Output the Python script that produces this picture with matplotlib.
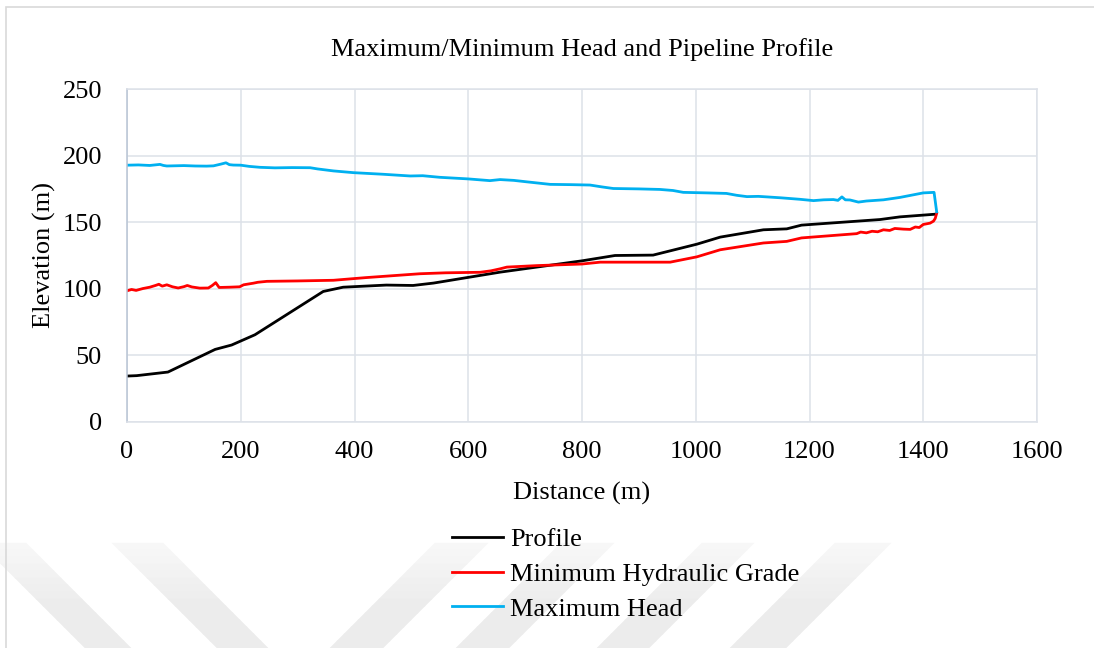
import matplotlib
matplotlib.use("Agg")
import matplotlib.pyplot as plt
from matplotlib.patches import Polygon, Rectangle

plt.rcParams['font.family'] = ['Liberation Serif', 'DejaVu Serif']

# Profile (ground elevation)
profile_x = [0, 17, 72, 155, 184, 225, 345, 380, 456, 503, 539, 656, 800, 858,
             925, 1002, 1043, 1119, 1160, 1186, 1324, 1359, 1421]
profile_y = [34.5, 34.8, 37.5, 54.5, 57.8, 65.5, 98.0, 101.2, 102.8, 102.5, 104.3,
             112.5, 121.0, 125.0, 125.3, 133.5, 138.8, 144.3, 145.0, 147.8, 152.0,
             154.0, 156.0]

# Minimum hydraulic grade
min_x = [0, 8, 16, 28, 40, 50, 56, 62, 70, 80, 90, 100, 106, 114, 128, 143, 150,
         156, 162, 180, 198, 205, 212, 222, 230, 246, 300, 363, 420, 515, 560, 621,
         640, 656, 668, 720, 800, 832, 955, 1002, 1043, 1119, 1160, 1186, 1283,
         1290, 1300, 1310, 1320, 1330, 1341, 1350, 1365, 1377, 1386, 1393, 1400,
         1412, 1418, 1421, 1423.5]
min_y = [98.5, 99.5, 98.8, 100.2, 101.2, 102.5, 103.4, 102.0, 103.0, 101.5, 100.6,
         101.6, 102.5, 101.4, 100.5, 100.6, 102.5, 104.6, 101.0, 101.2, 101.5, 103.0,
         103.5, 104.2, 104.9, 105.6, 105.9, 106.4, 108.4, 111.3, 112.0, 112.4, 113.5,
         115.0, 116.3, 117.4, 118.6, 120.0, 120.0, 124.0, 129.3, 134.4, 135.6, 138.2,
         141.4, 142.6, 142.0, 143.2, 142.8, 144.3, 143.8, 145.3, 144.8, 144.6, 146.4,
         146.0, 148.3, 149.3, 150.8, 152.8, 156.5]

# Maximum head
max_x = [0, 20, 40, 58, 64, 70, 100, 120, 140, 152, 165, 174, 180, 187, 200, 215,
         234, 260, 290, 322, 335, 363, 398, 450, 498, 520, 550, 600, 638, 656, 680,
         703, 744, 780, 814, 835, 855, 900, 937, 960, 978, 1020, 1054, 1072, 1090,
         1110, 1125, 1150, 1183, 1207, 1225, 1242, 1250, 1257, 1263, 1271, 1286,
         1300, 1330, 1359, 1400, 1419, 1423.6]
max_y = [192.8, 193.0, 192.6, 193.4, 192.6, 192.2, 192.5, 192.2, 192.1, 192.3,
         193.6, 194.6, 193.2, 192.9, 192.8, 191.9, 191.2, 190.8, 191.0, 190.9, 190.0,
         188.5, 187.2, 186.0, 184.7, 184.9, 183.7, 182.5, 181.2, 182.0, 181.4, 180.3,
         178.4, 178.2, 177.9, 176.5, 175.3, 175.0, 174.6, 173.8, 172.4, 172.0, 171.6,
         170.2, 169.2, 169.4, 169.0, 168.3, 167.2, 166.2, 166.8, 167.0, 166.4, 169.0,
         166.8, 166.7, 165.1, 165.9, 166.8, 168.6, 172.0, 172.4, 157.8]

W, H = 1094, 648
fig = plt.figure(figsize=(W / 100, H / 100), dpi=100)


def px(x, y):
    return (x / W, 1 - y / H)


# faint watermark stripes in the lower part of the page (fading upwards)
stripes = [(-20, 26, 105), (112, 163, 105), (435, 488, -105),
           (561, 614, -105), (702, 754, -105), (835, 891, -105)]
nband = 15
for x0, x1, dx in stripes:
    for i in range(nband):
        t0, t1 = i / nband, (i + 1) / nband
        y0, y1 = 543 + 105 * t0, 543 + 105 * t1
        g = 0.975 - 0.05 * min(1, t1 * 1.6)
        pts = [px(x0 + dx * t0, y0), px(x1 + dx * t0, y0),
               px(x1 + dx * t1, y1), px(x0 + dx * t1, y1)]
        fig.add_artist(Polygon(pts, closed=True, transform=fig.transFigure,
                               facecolor=(g, g, g), edgecolor=(g, g, g), lw=0.3,
                               zorder=0))

# chart area border
fig.add_artist(Rectangle(px(6, 660), 1200 / W, 653 / H, transform=fig.transFigure,
                         fill=False, edgecolor='#d9d9d9', lw=1.2, zorder=1))

ax = fig.add_axes([127 / W, 1 - 422 / H, 910 / W, 333 / H])
ax.patch.set_alpha(0)

grid_c = '#dde1e8'
ax.plot(profile_x, profile_y, color='black', lw=2.0, label='Profile')
ax.plot(min_x, min_y, color='#ff0000', lw=2.0, label='Minimum Hydraulic Grade')
ax.plot(max_x, max_y, color='#00b0f0', lw=2.0, label='Maximum Head')

ax.set_xlim(0, 1600)
ax.set_ylim(0, 250)
ax.set_xticks(range(0, 1601, 200))
ax.set_yticks(range(0, 251, 50))
ax.grid(True, color=grid_c, lw=1.1)
ax.set_axisbelow(True)
for s in ax.spines.values():
    s.set_color(grid_c)
    s.set_linewidth(1.1)
ax.spines['left'].set_color('#b8c4d4')
ax.tick_params(length=0, labelsize=19, pad=14)
ax.tick_params(axis='y', pad=18)

ax.set_title('Maximum/Minimum Head and Pipeline Profile', fontsize=19, pad=24)
ax.set_xlabel('Distance (m)', fontsize=19, labelpad=13.5)
ax.set_ylabel('Elevation (m)', fontsize=19, labelpad=5)

fig.legend(loc='center', bbox_to_anchor=(626 / W, 1 - 574 / H), frameon=False,
           fontsize=19, handlelength=1.93, handletextpad=0.27, labelspacing=0.43)

fig.savefig('out.png', dpi=100)
